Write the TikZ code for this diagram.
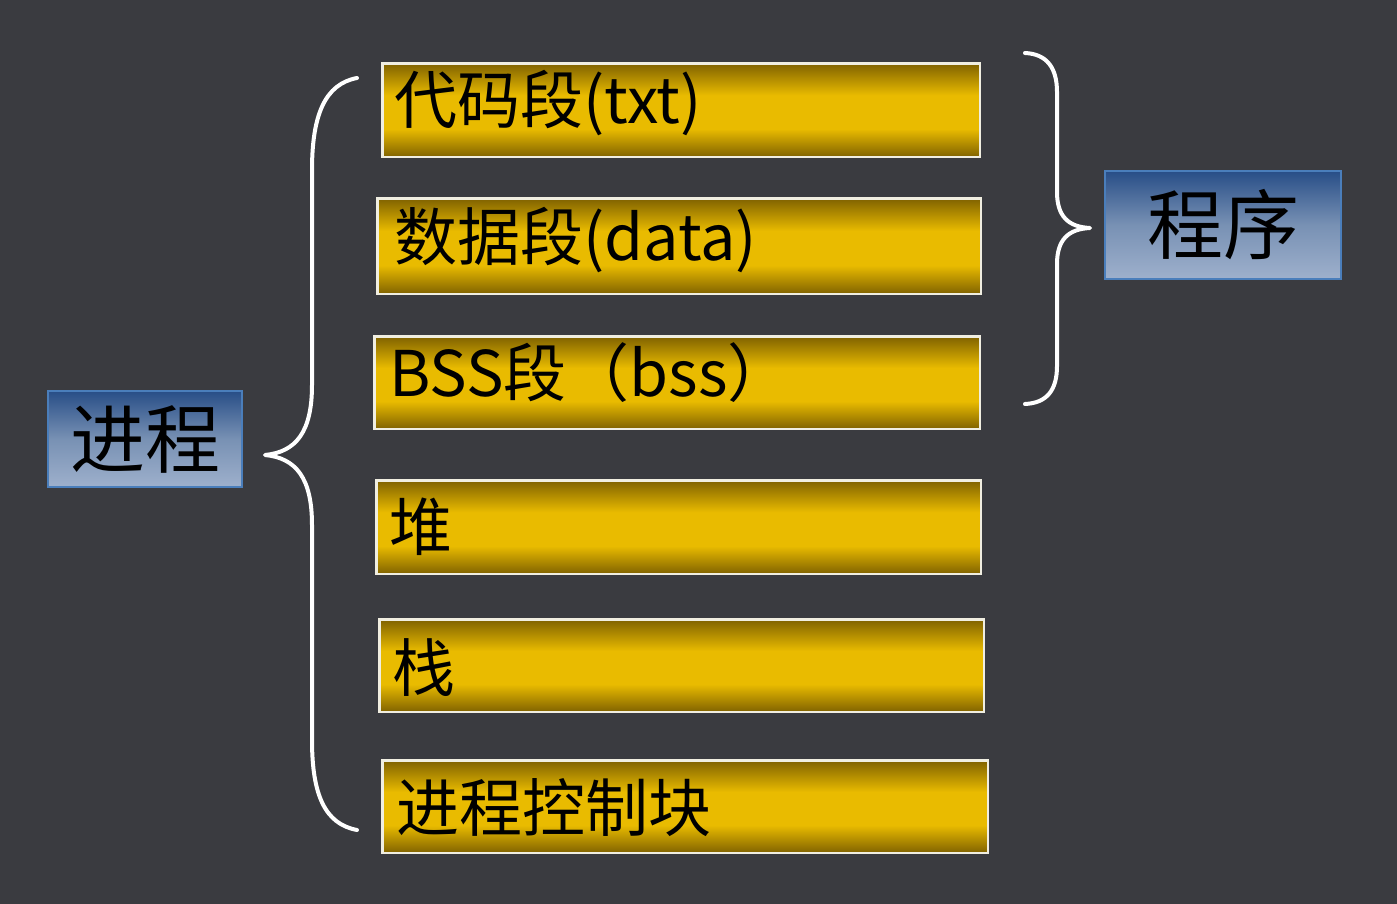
\documentclass[tikz,border=0pt]{standalone}
\usepackage{fontspec}
\newfontfamily\cjk{Noto Sans CJK SC}
\definecolor{bg}{RGB}{58,59,64}
\definecolor{gdark}{RGB}{128,98,0}
\definecolor{gbright}{RGB}{233,187,0}
\definecolor{gedge}{RGB}{240,238,225}
\definecolor{btop}{RGB}{40,78,135}
\definecolor{bmid}{RGB}{120,145,180}
\definecolor{bbot}{RGB}{158,176,204}
\definecolor{bedge}{RGB}{74,126,187}
\pgfdeclareverticalshading{goldbar}{100bp}{color(0bp)=(gdark); color(25bp)=(gdark); color(40bp)=(gbright); color(58bp)=(gbright); color(75bp)=(gdark); color(100bp)=(gdark)}
\pgfdeclareverticalshading{bluebar}{100bp}{color(0bp)=(bbot); color(25bp)=(bbot); color(50bp)=(bmid); color(75bp)=(btop); color(100bp)=(btop)}
\tikzset{
  goldbox/.style={draw=gedge, line width=2.5pt, shading=goldbar, rectangle, inner sep=0pt, anchor=north west},
  bluebox/.style={draw=bedge, line width=2pt, shading=bluebar, rectangle, inner sep=0pt, font=\cjk\fontsize{75}{82}\selectfont, text=black},
  segtext/.style={anchor=west, inner sep=0pt, text=black, font=\cjk\fontsize{63}{72}\selectfont},
  brace/.style={draw=white, line width=4pt, line cap=round, line join=round}
}
\begin{document}
\begin{tikzpicture}[x=1pt,y=-1pt]
\fill[bg] (0,0) rectangle (1397,904);
\useasboundingbox (0,0) rectangle (1397,904);
% gold boxes
\node[goldbox, minimum width=597.5pt, minimum height=93.5pt] (b1) at (381.25,62.25) {};
\node[goldbox, minimum width=603.5pt, minimum height=95.5pt] (b2) at (376.25,197.25) {};
\node[goldbox, minimum width=605.5pt, minimum height=92.5pt] (b3) at (373.25,335.25) {};
\node[goldbox, minimum width=604.5pt, minimum height=93.5pt] (b4) at (375.25,479.25) {};
\node[goldbox, minimum width=604.5pt, minimum height=92.5pt] (b5) at (378.25,618.25) {};
\node[goldbox, minimum width=605.5pt, minimum height=92.5pt] (b6) at (381.25,759.25) {};
% texts
\node[segtext] (t1) at (394,103) {代码段(txt)};
\node[segtext] (t2) at (394,240) {数据段(data)};
\node[segtext] (t3) at (389,373) {BSS段（bss）};
\node[segtext] (t4) at (389,527) {堆};
\node[segtext] (t5) at (392,668) {栈};
\node[segtext] (t6) at (396,808) {进程控制块};
% blue boxes
\node[bluebox, minimum width=194pt, minimum height=96pt] (jc) at (145,439) {进程};
\node[bluebox, minimum width=236pt, minimum height=108pt, font=\cjk\fontsize{76}{84}\selectfont] (cx) at (1223,225) {程序};
% left brace
\draw[brace] (357,78) .. controls (325,84) and (312,115) .. (312,170)
  -- (312,385) .. controls (312,432) and (296,452) .. (265,455)
  .. controls (296,458) and (312,478) .. (312,525)
  -- (312,740) .. controls (312,795) and (325,824) .. (357,830);
% right brace
\draw[brace] (1025,53) .. controls (1047,54) and (1057,68) .. (1057,92)
  -- (1057,192) .. controls (1057,216) and (1068,227) .. (1090,228)
  .. controls (1068,229) and (1057,240) .. (1057,264)
  -- (1057,366) .. controls (1057,390) and (1047,403) .. (1025,404);
\end{tikzpicture}
\end{document}
